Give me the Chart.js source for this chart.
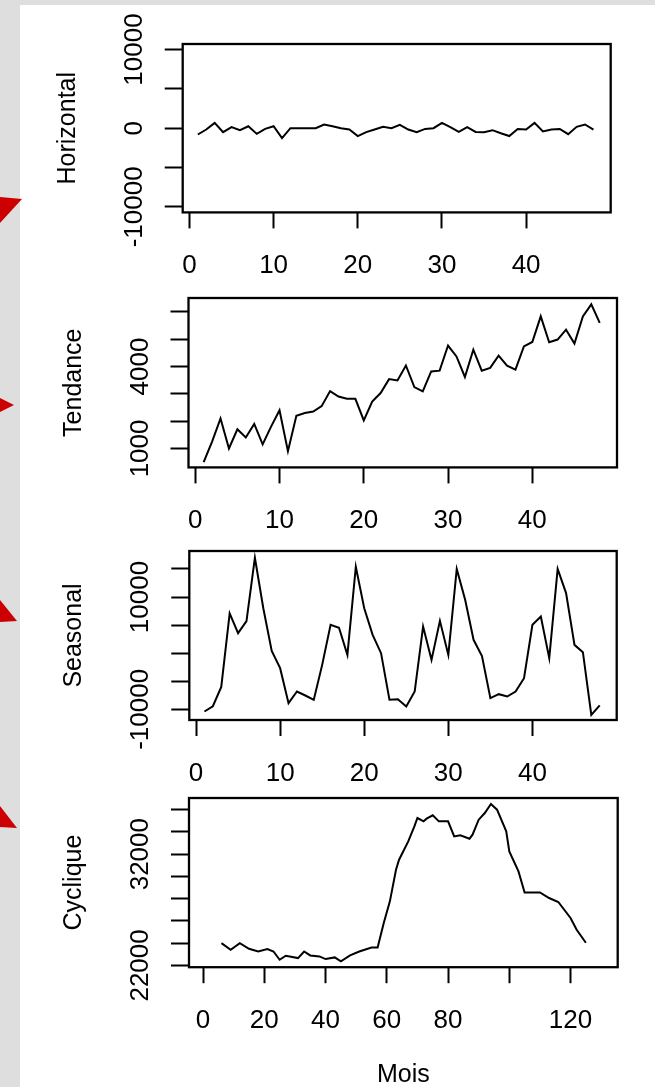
<!DOCTYPE html>
<html>
<head>
<meta charset="utf-8">
<script src="https://cdn.jsdelivr.net/npm/chart.js@4.4.1/dist/chart.umd.min.js"></script>
<style>
  html, body { margin: 0; padding: 0; background: #dedede; }
  #page { position: relative; width: 655px; height: 1087px; overflow: hidden; background: #dedede; }
  #sheet { position: absolute; left: 20px; top: 5px; right: 0; bottom: 0; background: #fff; }
  #page canvas { position: absolute; left: 0; }
  #arrows { position: absolute; left: 0; top: 0; }
</style>
</head>
<body>
<div id="page">
  <div id="sheet"></div>
  <canvas id="c1" width="655" height="10"></canvas>
  <canvas id="c2" width="655" height="10"></canvas>
  <canvas id="c3" width="655" height="10"></canvas>
  <canvas id="c4" width="655" height="10"></canvas>
  <svg id="arrows" width="655" height="1087">
    <polygon points="0,197 22,199 0,223" fill="#cc0000"/>
    <polygon points="0,398 14,405 0,412" fill="#cc0000"/>
    <polygon points="0,600 17,621 0,622" fill="#cc0000"/>
    <polygon points="0,806 17,828 0,827" fill="#cc0000"/>
  </svg>
</div>
<script>
// months 1..48
const months = [1, 2, 3, 4, 5, 6, 7, 8, 9, 10, 11, 12, 13, 14, 15, 16, 17, 18, 19, 20, 21, 22, 23, 24,
                25, 26, 27, 28, 29, 30, 31, 32, 33, 34, 35, 36, 37, 38, 39, 40, 41, 42, 43, 44, 45, 46, 47, 48];

const horizVals = [-800, -170, 680, -500, 130, -250, 250, -720, -90, 250, -1270, 0, 0, 0, 0, 470,
                   250, 0, -170, -1000, -500, -170, 170, 0, 420, -170, -500, -90, 0, 680, 130, -470,
                   130, -470, -500, -250, -640, -1000, -90, -170, 680, -420, -170, -90, -760, 170, 470, -170];

const trendVals = [500, 1250, 2100, 1000, 1700, 1400, 1900, 1150, 1800, 2400, 900, 2200, 2300, 2350, 2550, 3100,
                   2900, 2820, 2820, 2030, 2720, 3030, 3540, 3490, 4040, 3250, 3090, 3820, 3850, 4770, 4370, 3620,
                   4620, 3850, 3950, 4400, 4030, 3890, 4740, 4900, 5840, 4890, 4990, 5350, 4840, 5840, 6280, 5600];

const seasVals = [-10390, -9450, -6000, 7100, 3560, 5700, 17000, 8000, 400, -2670, -8900, -6830, -7540, -8300, -2080, 5050,
                  4520, -300, 15400, 8000, 3270, 0, -8300, -8200, -9500, -6830, 4750, -1190, 5760, -300, 15000, 9500,
                  2380, -500, -8000, -7300, -7720, -6830, -4450, 5050, 6530, -890, 15000, 10700, 1480, 180, -11000, -9300];

const cycMonths = [6, 9, 12, 15, 18, 21, 23, 25, 27, 31, 33, 35, 38, 40, 43, 45, 48, 51, 55, 57, 59, 61, 63, 64, 67,
                   69, 70, 72, 73, 75, 77, 80, 82, 84, 87, 88, 90, 92, 94, 96, 99, 100, 103, 105, 110, 113, 116, 120, 122, 125];
const cycVals = [24000, 23400, 24000, 23500, 23250, 23470, 23250, 22510, 22870, 22660, 23250, 22900, 22810, 22570, 22720,
                 22360, 22900, 23250, 23610, 23610, 25810, 27760, 30600, 31500, 33150, 34500, 35250, 34950, 35190, 35490,
                 34950, 34950, 33600, 33690, 33390, 33750, 35100, 35700, 36510, 36000, 34050, 32250, 30450, 28560, 28560,
                 28060, 27700, 26270, 25210, 24040];

const xTicks48 = [0, 10, 20, 30, 40];
const cycXTicks = [0, 20, 40, 60, 80, 100, 120];
const cycXLabels = [0, 20, 40, 60, 80, 120];

const horizTicks = [-10000, -5000, 0, 5000, 10000];
const horizLabels = [-10000, 0, 10000];
const trendTicks = [1000, 2000, 3000, 4000, 5000, 6000];
const trendLabels = [1000, 4000];
const seasTicks = [-10000, -5000, 0, 5000, 10000, 15000];
const seasLabels = [-10000, 10000];
const cycTicks = [22000, 24000, 26000, 28000, 30000, 32000, 34000, 36000];
const cycLabels = [22000, 32000];

const TICK_FONT = { family: "'Liberation Sans Narrow', 'Liberation Sans', Arial, sans-serif", size: 26 };
const TITLE_FONT = { family: "'Liberation Sans', Arial, sans-serif", size: 25 };

// R style box around the plot region
const boxPlugin = {
  id: 'rbox',
  afterDraw(chart) {
    const a = chart.chartArea, ctx = chart.ctx;
    ctx.save();
    ctx.strokeStyle = '#000';
    ctx.lineWidth = 2.3;
    ctx.strokeRect(a.left, a.top, a.right - a.left, a.bottom - a.top);
    ctx.restore();
  }
};

// rotated y labels, centred on their tick like R's axis(2)
const yLabelPlugin = {
  id: 'ylabels',
  afterDraw(chart, args, opts) {
    const ctx = chart.ctx, ys = chart.scales.y;
    ctx.save();
    ctx.fillStyle = '#000';
    ctx.font = `${TICK_FONT.size}px ${TICK_FONT.family}`;
    ctx.textAlign = 'center';
    ctx.textBaseline = 'middle';
    opts.values.forEach(v => {
      const y = ys.getPixelForValue(v);
      ctx.save();
      ctx.translate(chart.chartArea.left - opts.offset, y);
      ctx.rotate(-Math.PI / 2);
      ctx.fillText(String(v), 0, 0);
      ctx.restore();
    });
    ctx.restore();
  }
};

function panel(id, cfg) {
  const f = cfg.frame;
  const top = f.t - 40;
  const below = cfg.below;
  const canvas = document.getElementById(id);
  canvas.style.top = top + 'px';
  canvas.height = Math.round(f.b - top + below);
  const points = cfg.xs.map((x, i) => ({ x: x, y: cfg.ys[i] }));

  new Chart(canvas, {
    type: 'line',
    data: {
      datasets: [{
        data: points,
        borderColor: '#000',
        borderWidth: 2,
        pointRadius: 0,
        tension: 0,
        fill: false
      }]
    },
    plugins: [boxPlugin, yLabelPlugin],
    options: {
      responsive: false,
      animation: false,
      events: [],
      layout: { padding: { top: f.t - top, right: 655 - f.r, left: 0, bottom: 0 } },
      plugins: {
        legend: { display: false },
        tooltip: { enabled: false },
        ylabels: { values: cfg.yLabels, offset: 48 }
      },
      scales: {
        x: {
          type: 'linear',
          min: cfg.xMin,
          max: cfg.xMax,
          afterBuildTicks: s => { s.ticks = cfg.xTicks.map(v => ({ value: v })); },
          afterFit: s => { s.height = canvas.height - (f.b - top); },
          ticks: {
            font: TICK_FONT,
            color: '#000',
            padding: 22,
            maxRotation: 0,
            autoSkip: false,
            callback: v => (cfg.xLabels.includes(v) ? String(v) : '')
          },
          grid: { drawOnChartArea: false, drawTicks: true, tickLength: 16, tickWidth: 2, tickColor: '#000' },
          border: { display: false },
          title: {
            display: !!cfg.xTitle,
            text: cfg.xTitle || '',
            font: TITLE_FONT,
            color: '#000',
            padding: { top: 0, bottom: 0 }
          }
        },
        y: {
          type: 'linear',
          min: cfg.yMin,
          max: cfg.yMax,
          afterBuildTicks: s => { s.ticks = cfg.yTicks.map(v => ({ value: v })); },
          afterFit: s => { s.width = f.l; },
          ticks: { display: false },
          grid: { drawOnChartArea: false, drawTicks: true, tickLength: 18, tickWidth: 2, tickColor: '#000' },
          border: { display: false },
          title: {
            display: true,
            text: cfg.yTitle,
            font: TITLE_FONT,
            color: '#000',
            padding: { top: f.l - 114.7 - 15, bottom: 0 }
          }
        }
      }
    }
  });
}

panel('c1', {
  frame: { l: 182.7, r: 610.7, t: 44.3, b: 212.7 }, below: 75,
  xs: months, ys: horizVals, xMin: -0.8, xMax: 50.05,
  xTicks: xTicks48, xLabels: xTicks48,
  yMin: -10700, yMax: 10700, yTicks: horizTicks, yLabels: horizLabels,
  yTitle: 'Horizontal'
});

panel('c2', {
  frame: { l: 188.5, r: 617, t: 298.3, b: 467.7 }, below: 75,
  xs: months, ys: trendVals, xMin: -0.8, xMax: 50.05,
  xTicks: xTicks48, xLabels: xTicks48,
  yMin: 305, yMax: 6512, yTicks: trendTicks, yLabels: trendLabels,
  yTitle: 'Tendance'
});

panel('c3', {
  frame: { l: 189.3, r: 616.7, t: 551, b: 720 }, below: 75,
  xs: months, ys: seasVals, xMin: -0.8, xMax: 50.02,
  xTicks: xTicks48, xLabels: xTicks48,
  yMin: -11900, yMax: 18200, yTicks: seasTicks, yLabels: seasLabels,
  yTitle: 'Seasonal'
});

panel('c4', {
  frame: { l: 189, r: 617.7, t: 798.3, b: 967.5 }, below: 1090 - 967.5,
  xs: cycMonths, ys: cycVals, xMin: -4.6, xMax: 135.4,
  xTicks: cycXTicks, xLabels: cycXLabels,
  yMin: 21840, yMax: 37050, yTicks: cycTicks, yLabels: cycLabels,
  yTitle: 'Cyclique', xTitle: 'Mois'
});
</script>
</body>
</html>
